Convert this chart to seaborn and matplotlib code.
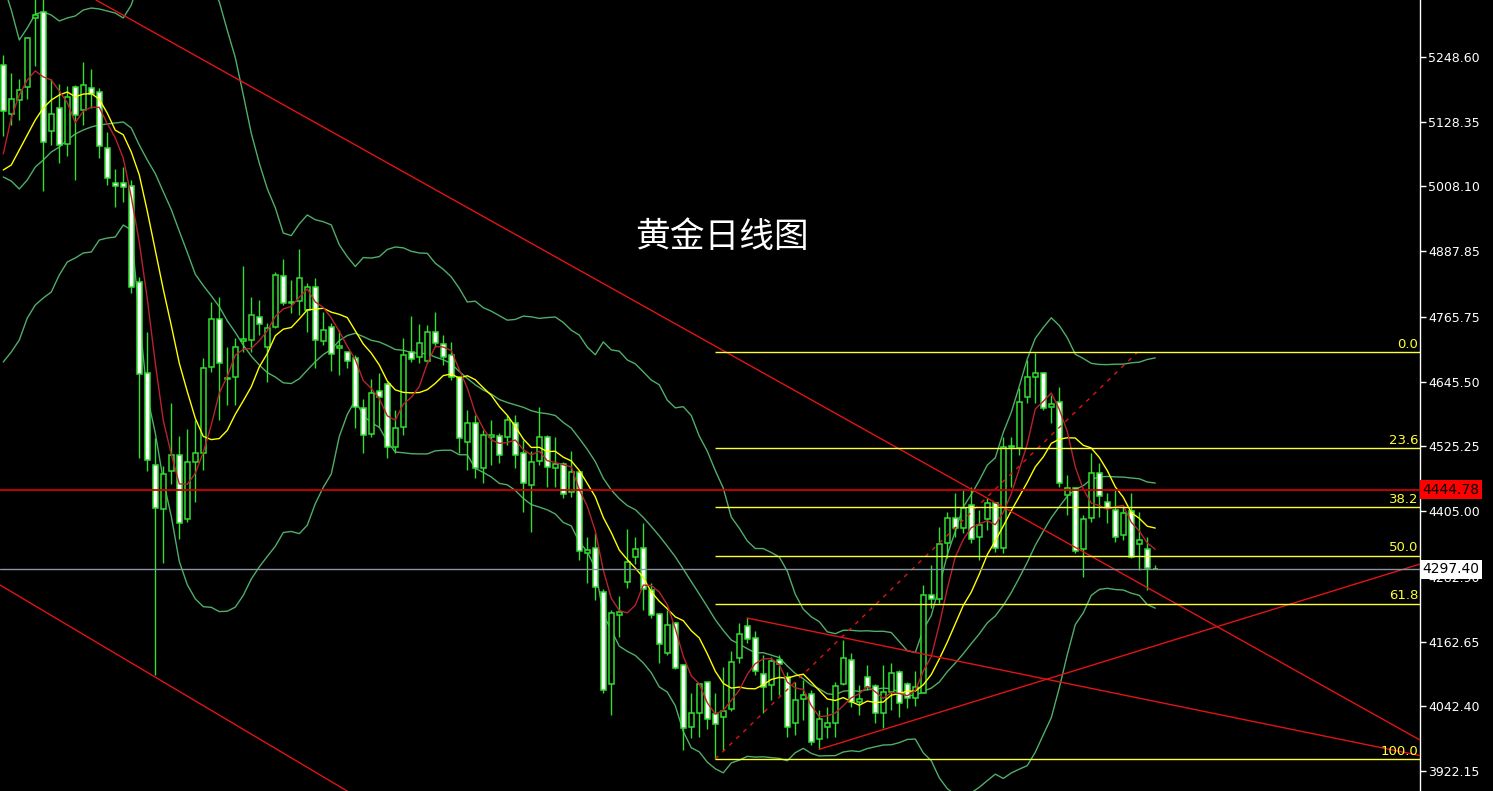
import numpy as np
import pandas as pd
import matplotlib
matplotlib.use("Agg")
import matplotlib.pyplot as plt
import seaborn as sns

# daily bars (open / high / low / close)
opens = [5233.5, 5143.6, 5168.2, 5192.7, 5320.2, 5332.4, 5110.9, 5154.3, 5086.4, 5193.5,
         5150.2, 5191.0, 5184.5, 5079.1, 5014.5, 5014.5, 5008.8, 4831.4, 4661.4, 4490.6,
         4408.9, 4480.0, 4508.6, 4390.1, 4496.3, 4512.3, 4672.0, 4761.8, 4650.9, 4653.4,
         4721.6, 4722.8, 4764.9, 4709.2, 4746.4, 4841.7, 4792.2, 4795.3, 4778.6, 4821.9,
         4721.6, 4746.4, 4707.3, 4699.9, 4688.8, 4595.9, 4547.6, 4628.7, 4641.1, 4524.7,
         4560.6, 4701.2, 4690.7, 4684.5, 4737.1, 4714.8, 4695.0, 4654.8, 4534.0, 4569.3,
         4484.5, 4542.1, 4544.5, 4543.3, 4569.3, 4513.6, 4453.5, 4498.7, 4542.1, 4484.5,
         4492.5, 4441.1, 4477.0, 4327.7, 4335.8, 4255.3, 4083.1, 4211.3, 4272.6, 4319.1,
         4335.8, 4258.4, 4213.2, 4140.7, 4197.7, 4119.1, 4004.5, 4030.5, 4086.8, 4027.4,
         4021.8, 4036.7, 4131.4, 4191.5, 4168.6, 4102.3, 4081.9, 4127.7, 4097.4, 4011.9,
         4055.3, 4064.6, 3981.0, 4003.3, 4011.9, 4083.2, 4128.4, 4051.0, 4096.2, 4080.1,
         4029.3, 4069.5, 4106.7, 4083.8, 4057.2, 4067.7, 4248.5, 4241.1, 4345.1, 4391.6,
         4373.0, 4416.4, 4356.3, 4389.7, 4419.3, 4335.7, 4523.4, 4521.5, 4616.3, 4653.4,
         4660.9, 4598.9, 4608.2, 4434.8, 4447.2, 4333.9, 4391.5, 4475.1, 4422.4, 4407.0,
         4360.5, 4405.7, 4343.8, 4334.5, 4298.0]
highs = [5252.3, 5219.6, 5207.4, 5285.0, 5370.0, 5370.0, 5207.4, 5199.2, 5195.1, 5196.8,
         5240.1, 5226.2, 5191.0, 5109.3, 5039.8, 5043.9, 5019.4, 4839.6, 4737.4, 4541.3,
         4488.2, 4606.7, 4545.4, 4557.6, 4574.0, 4688.8, 4794.0, 4802.1, 4710.4, 4725.9,
         4860.3, 4803.3, 4797.1, 4753.8, 4849.8, 4872.7, 4834.3, 4891.3, 4828.1, 4837.4,
         4775.5, 4753.8, 4741.4, 4701.1, 4694.9, 4612.6, 4649.7, 4662.1, 4645.4, 4592.8,
         4726.0, 4767.5, 4752.6, 4750.8, 4775.5, 4732.2, 4719.8, 4656.0, 4592.8, 4583.5,
         4555.7, 4574.3, 4549.5, 4583.5, 4583.5, 4537.1, 4517.3, 4597.8, 4546.4, 4543.3,
         4496.8, 4517.3, 4481.4, 4356.2, 4363.7, 4259.6, 4221.2, 4247.2, 4371.1, 4356.2,
         4383.5, 4270.8, 4215.0, 4221.2, 4199.6, 4120.3, 4066.4, 4086.2, 4088.1, 4066.4,
         4115.9, 4145.7, 4196.5, 4205.8, 4182.9, 4137.6, 4134.5, 4137.6, 4106.7, 4088.1,
         4091.2, 4072.6, 4035.5, 4041.7, 4088.1, 4165.5, 4142.0, 4081.9, 4119.1, 4083.8,
         4119.1, 4122.2, 4109.8, 4088.1, 4108.6, 4267.7, 4304.9, 4376.1, 4404.0, 4438.0,
         4444.2, 4450.4, 4407.1, 4428.7, 4422.4, 4543.2, 4543.2, 4633.0, 4685.6, 4698.0,
         4664.0, 4620.6, 4636.1, 4472.0, 4450.3, 4397.7, 4512.2, 4493.7, 4437.9, 4444.1,
         4414.4, 4437.9, 4403.9, 4357.4, 4304.8]
lows = [5101.1, 5121.6, 5132.2, 5170.0, 5231.9, 4999.0, 5084.8, 5052.1, 5064.4, 5019.4,
        5121.6, 5154.3, 5060.3, 5011.2, 4970.4, 4978.5, 4811.0, 4504.5, 4480.0, 4099.9,
        4308.3, 4455.5, 4353.3, 4385.0, 4422.8, 4481.3, 4664.0, 4574.2, 4602.0, 4602.0,
        4701.1, 4701.1, 4732.1, 4645.4, 4744.5, 4787.8, 4772.4, 4769.3, 4738.3, 4670.2,
        4713.5, 4665.8, 4657.8, 4670.2, 4558.7, 4512.3, 4542.0, 4561.8, 4503.0, 4512.3,
        4546.4, 4682.6, 4679.5, 4679.5, 4710.5, 4676.4, 4648.6, 4512.3, 4481.4, 4465.9,
        4456.6, 4490.7, 4493.7, 4527.8, 4484.5, 4404.0, 4366.8, 4490.7, 4450.4, 4450.4,
        4428.7, 4431.8, 4314.2, 4270.8, 4239.8, 4067.6, 4026.2, 4171.7, 4261.5, 4306.7,
        4221.2, 4205.8, 4123.4, 4137.6, 4111.0, 3961.1, 3982.8, 3984.7, 3999.5, 3943.8,
        3961.1, 4034.2, 4122.1, 4159.3, 4100.5, 4029.2, 4054.0, 4063.3, 3986.0, 3989.0,
        4016.9, 3970.5, 3962.4, 3982.8, 3986.0, 4081.9, 4041.7, 4026.2, 4072.6, 4011.9,
        4001.4, 4035.5, 4023.1, 4038.6, 4042.9, 4066.4, 4224.4, 4233.7, 4317.3, 4357.5,
        4363.7, 4345.1, 4314.2, 4369.9, 4329.5, 4326.5, 4450.3, 4509.1, 4605.1, 4605.1,
        4592.7, 4568.0, 4450.3, 4397.7, 4326.5, 4283.1, 4385.3, 4394.6, 4382.2, 4348.1,
        4351.2, 4317.2, 4295.5, 4258.3, 4296.7]
closes = [5147.7, 5170.6, 5187.0, 5283.4, 5325.9, 5091.3, 5142.0, 5084.8, 5174.7, 5140.4,
          5196.8, 5180.4, 5083.2, 5023.5, 5008.8, 5007.1, 4821.6, 4659.8, 4500.4, 4410.5,
          4474.3, 4508.6, 4383.5, 4496.3, 4512.7, 4670.2, 4761.8, 4679.5, 4652.8, 4709.2,
          4724.1, 4769.3, 4752.5, 4744.5, 4843.6, 4792.2, 4793.4, 4837.4, 4821.9, 4722.8,
          4741.4, 4696.2, 4711.7, 4684.4, 4598.9, 4546.3, 4623.7, 4617.5, 4523.4, 4558.7,
          4695.0, 4687.0, 4717.9, 4737.1, 4716.7, 4690.7, 4653.5, 4540.2, 4568.1, 4484.5,
          4546.4, 4546.4, 4509.2, 4574.3, 4509.2, 4457.8, 4496.8, 4542.1, 4487.6, 4491.9,
          4436.8, 4477.0, 4331.5, 4332.7, 4263.3, 4072.6, 4215.0, 4218.1, 4311.0, 4333.9,
          4259.6, 4211.3, 4157.4, 4193.4, 4112.9, 4001.4, 4029.2, 4083.1, 4018.1, 4008.8,
          4033.6, 4124.0, 4176.0, 4166.7, 4107.9, 4077.6, 4126.5, 4120.9, 4003.3, 4054.1,
          4063.4, 3976.6, 4018.1, 4010.7, 4080.1, 4131.5, 4051.0, 4055.3, 4078.8, 4030.5,
          4069.5, 4104.8, 4047.9, 4057.2, 4078.8, 4249.1, 4241.1, 4343.9, 4391.6, 4373.0,
          4410.2, 4352.6, 4379.2, 4420.7, 4335.7, 4524.6, 4525.9, 4608.2, 4653.4, 4660.9,
          4595.8, 4603.9, 4456.5, 4447.2, 4331.4, 4389.6, 4475.1, 4433.0, 4410.1, 4357.4,
          4402.0, 4319.0, 4351.2, 4299.8, 4297.4]

# indicator values on the first bars (the windows need older bars that are off screen)
ma5_head = [5068.4, 5135.3, 5178.0, 5205.9]
ma10_head = [5038.7, 5048.0, 5075.8, 5103.7, 5131.6, 5153.9, 5168.7, 5178.0, 5183.6]
bb_up_head = [5382.4, 5335.9, 5280.2, 5302.5, 5328.5, 5332.2, 5326.6, 5315.5, 5321.1, 5324.8,
              5335.9, 5339.6, 5337.8, 5334.1, 5330.3, 5321.1, 5345.2, 5391.7, 5466.0]
bb_mid_head = [5025.7, 5018.2, 5003.4, 5020.1, 5044.2, 5057.3, 5072.1, 5081.4, 5094.4, 5105.6,
               5113.0, 5118.6, 5122.3, 5124.1, 5126.0, 5127.9, 5116.7, 5085.1, 5057.3]
bb_low_head = [4682.0, 4700.5, 4722.8, 4763.7, 4787.9, 4800.9, 4812.0, 4843.6, 4867.8, 4875.2,
               4884.5, 4886.3, 4908.6, 4912.3, 4914.2, 4936.5, 4927.2, 4765.6, 4618.8]

# right price scale
y_ticks = [5248.60, 5128.35, 5008.10, 4887.85, 4765.75, 4645.50,
           4525.25, 4405.00, 4282.90, 4162.65, 4042.40, 3922.15]
y_tick_labels = ["5248.60", "5128.35", "5008.10", "4887.85", "4765.75", "4645.50",
                 "4525.25", "4405.00", "4282.90", "4162.65", "4042.40", "3922.15"]

# horizontal price lines
red_level = 4444.78
last_price = 4297.40

# fibonacci retracement (bar, price of the two anchors)
fib_low_bar, fib_low = 89, 3944.4
fib_high_bar, fib_high = 141.8, 4700.6
fib_levels = [0.0, 23.6, 38.2, 50.0, 61.8, 100.0]

# trend lines, each given by two (bar, price) points
channel_top = [(11.59, 5354.5), (177.09, 3979.7)]
channel_bottom = [(-0.41, 4267.7), (21.71, 4072.6)]
ray_down = [(92.96, 4206.4), (123.34, 4114.1)]
ray_up = [(102.0, 3962.4), (123.34, 4060.2)]

title = "黄金日线图"

# --- indicators ---
df = pd.DataFrame({"open": opens, "high": highs, "low": lows, "close": closes})
df["bar"] = np.arange(len(df))
df["ma5"] = df["close"].rolling(5).mean()
df["ma10"] = df["close"].rolling(10).mean()
df["bb_mid"] = df["close"].rolling(20).mean()
sd = df["close"].rolling(20).std(ddof=0)
df["bb_up"] = df["bb_mid"] + 2 * sd
df["bb_low"] = df["bb_mid"] - 2 * sd
df.loc[:3, "ma5"] = ma5_head
df.loc[:8, "ma10"] = ma10_head
df.loc[:18, "bb_up"] = bb_up_head
df.loc[:18, "bb_mid"] = bb_mid_head
df.loc[:18, "bb_low"] = bb_low_head

sns.set_style("dark")
plt.rcParams["font.family"] = ["DejaVu Sans"]

green = "#2fe02f"
bb_color = "#4fae68"
trend_red = "#e01414"

fig = plt.figure(figsize=(14.93, 7.91), dpi=100, facecolor="black")
ax = fig.add_axes([0, 0, 1420 / 1493, 1])
ax.set_facecolor("black")
ax.grid(False)

x_left, x_right = -0.41, 177.09
y_bottom, y_top = 3885.0, 5354.5

# bollinger bands
for col in ["bb_up", "bb_mid", "bb_low"]:
    sns.lineplot(data=df, x="bar", y=col, color=bb_color, linewidth=1, ax=ax, zorder=2)

# candles
bear = df["close"] < df["open"]
ax.vlines(df["bar"], df["low"], df["high"], color=green, linewidth=1, zorder=3)
body_low = df[["open", "close"]].min(axis=1)
body_h = (df["close"] - df["open"]).abs()
ax.bar(df["bar"], body_h, bottom=body_low, width=0.66,
       color=np.where(bear, "white", "black"), edgecolor=green, linewidth=1.1, zorder=4)

# moving averages
sns.lineplot(data=df, x="bar", y="ma10", color="#ffff00", linewidth=1, ax=ax, zorder=5)
sns.lineplot(data=df, x="bar", y="ma5", color="#b8222e", linewidth=1, ax=ax, zorder=5)

# trend lines
ax.axline(channel_top[0], channel_top[1], color=trend_red, linewidth=1, zorder=6)
ax.axline(channel_bottom[0], channel_bottom[1], color=trend_red, linewidth=1, zorder=6)
for (b0, p0), (b1, p1) in [ray_down, ray_up]:
    slope = (p1 - p0) / (b1 - b0)
    ax.plot([b0, x_right], [p0, p0 + slope * (x_right - b0)],
            color=trend_red, linewidth=1, zorder=6)

# fibonacci
ax.plot([fib_low_bar, fib_high_bar], [fib_low, fib_high], color=trend_red,
        linewidth=1, linestyle=(0, (3, 4)), zorder=6)
for lvl in fib_levels:
    price = fib_high - lvl / 100 * (fib_high - fib_low)
    ax.hlines(price, fib_low_bar, x_right, color="#ffff33", linewidth=1, zorder=6)
    ax.text(0.9986, price + 2, f"{lvl:.1f}", transform=ax.get_yaxis_transform(),
            ha="right", va="bottom", color="#ffff33", fontsize=9.5, zorder=7)

# price lines
ax.axhline(red_level, color="#d00000", linewidth=1.3, zorder=6)
ax.axhline(last_price, color="#8a94a6", linewidth=1, zorder=6)

ax.set_xlim(x_left, x_right)
ax.set_ylim(y_bottom, y_top)
ax.set_xlabel("")
ax.set_ylabel("")
ax.set_xticks([])
ax.yaxis.tick_right()
ax.set_yticks(y_ticks, y_tick_labels)
ax.tick_params(axis="y", colors="white", labelsize=9, length=4, width=1, pad=2)
for side in ["left", "top", "bottom"]:
    ax.spines[side].set_visible(False)
ax.spines["right"].set_color("white")
ax.spines["right"].set_linewidth(1)

# price boxes on the scale
ax.text(1.0015, red_level, f"{red_level:.2f}", transform=ax.get_yaxis_transform(),
        ha="left", va="center", color="black", fontsize=10, clip_on=False, zorder=10,
        bbox=dict(boxstyle="square,pad=0.18", fc="#ff0000", ec="none"))
ax.text(1.0015, last_price, f"{last_price:.2f}", transform=ax.get_yaxis_transform(),
        ha="left", va="center", color="black", fontsize=10, clip_on=False, zorder=10,
        bbox=dict(boxstyle="square,pad=0.18", fc="white", ec="none"))

fig.text(722 / 1493, 1 - 237 / 791, title, ha="center", va="center", color="white",
         fontsize=25, family=["Noto Sans CJK SC", "DejaVu Sans"])

fig.savefig("out.png", dpi=100, facecolor="black")
